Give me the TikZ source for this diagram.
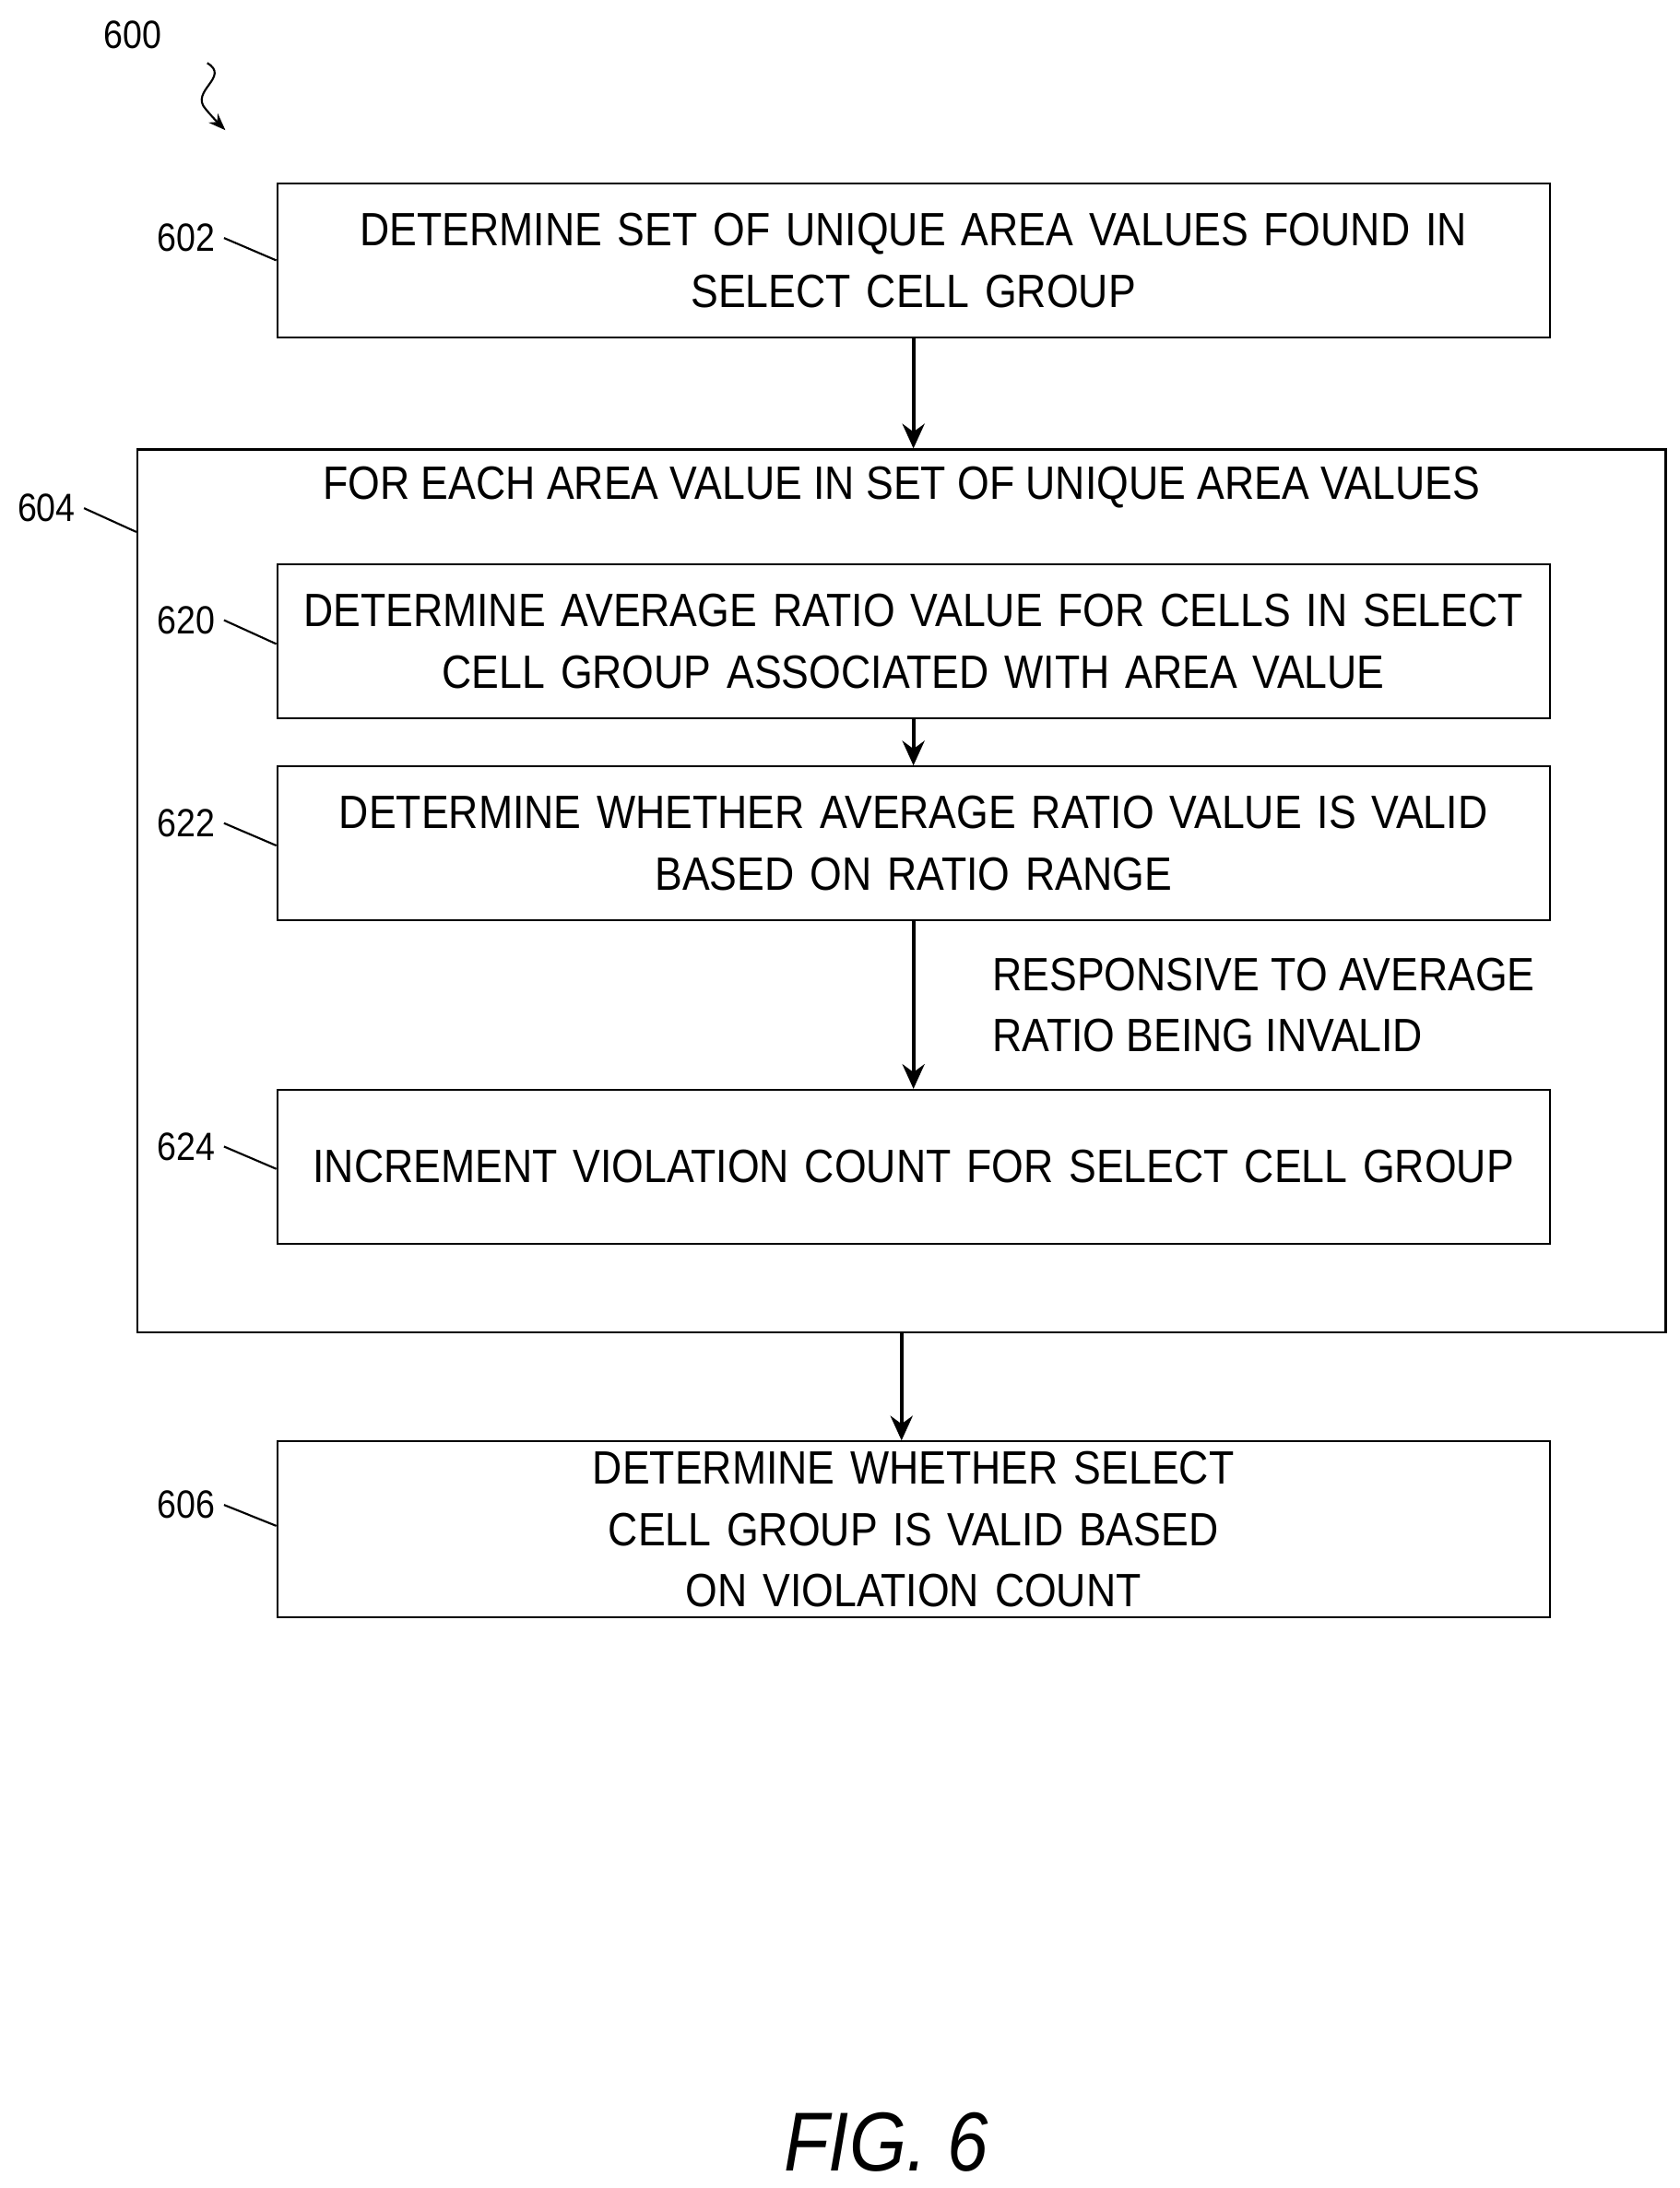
\documentclass[tikz,border=0pt]{standalone}
\usepackage{fontspec}
\setmainfont{Liberation Sans}
\newfontfamily\narrowsans[FakeStretch=0.88]{Liberation Sans}
\usetikzlibrary{positioning,arrows.meta}
\tikzset{
  stepbox/.style={rectangle, draw, thick, text width=17.9cm, minimum height=2.2cm,
    align=center, font=\narrowsans\fontsize{19}{25}\selectfont, inner sep=4pt},
  loopbox/.style={rectangle, draw, thick, minimum width=21.84cm, minimum height=12.62cm},
  flow/.style={draw, -{Stealth[length=10pt,width=9pt]}, line width=1.6pt},
  ref/.style={font=\narrowsans\fontsize{16}{18}\selectfont},
  lead/.style={draw, thick}
}
\begin{document}
\begin{tikzpicture}[x=0.02cm, y=-0.02cm]
  \useasboundingbox (0,0) rectangle (1200,1563);

  % reference numeral of the figure
  \node [ref] (n600) at (95,25) {600};
  \draw [thick, -{Stealth[length=7pt]}] (148,45) .. controls (165,55) and (135,65) .. (147,78)
    .. controls (152,84) and (156,88) .. (161,93);

  % steps
  \node [stepbox] (s602) at (652.5,186) {DETERMINE SET OF UNIQUE AREA VALUES FOUND IN\\SELECT CELL GROUP};
  \node [loopbox] (c604) at (644,636.5) {};
  \node [font=\narrowsans\fontsize{19}{25}\selectfont] (t604) at (644,348) {FOR EACH AREA VALUE IN SET OF UNIQUE AREA VALUES};
  \node [stepbox] (s620) at (652.5,458) {DETERMINE AVERAGE RATIO VALUE FOR CELLS IN SELECT\\CELL GROUP ASSOCIATED WITH AREA VALUE};
  \node [stepbox] (s622) at (652.5,602.5) {DETERMINE WHETHER AVERAGE RATIO VALUE IS VALID\\BASED ON RATIO RANGE};
  \node [stepbox] (s624) at (652.5,833.5) {INCREMENT VIOLATION COUNT FOR SELECT CELL GROUP};
  \node [stepbox] (s606) at (652.5,1092.5) {DETERMINE WHETHER SELECT CELL GROUP IS VALID BASED\\ON VIOLATION COUNT};

  % numerals
  \node [ref, anchor=east] (n602) at (160,170) {602};
  \node [ref, anchor=east] (n604) at (60,363) {604};
  \node [ref, anchor=east] (n620) at (160,443) {620};
  \node [ref, anchor=east] (n622) at (160,588) {622};
  \node [ref, anchor=east] (n624) at (160,819) {624};
  \node [ref, anchor=east] (n606) at (160,1075) {606};
  \draw [lead] (n602.east) -- (s602.west |- 0,186);
  \draw [lead] (n604.east) -- (c604.west |- 0,380);
  \draw [lead] (n620.east) -- (s620.west |- 0,460);
  \draw [lead] (n622.east) -- (s622.west |- 0,604);
  \draw [lead] (n624.east) -- (s624.west |- 0,835);
  \draw [lead] (n606.east) -- (s606.west |- 0,1090);

  % connectors
  \draw [flow] (s602) -- (s602 |- c604.north);
  \draw [flow] (s620) -- (s622);
  \draw [flow] (s622) -- node [right=28pt, align=left, font=\narrowsans\fontsize{19}{25}\selectfont] (l624)
    {RESPONSIVE TO AVERAGE\\RATIO BEING INVALID} (s624);
  \draw [flow] (c604.south) -- (c604.south |- s606.north);

  \node [font=\narrowsans\itshape\fontsize{34}{40}\selectfont] (fig) at (633,1530) {FIG. 6};
\end{tikzpicture}
\end{document}
